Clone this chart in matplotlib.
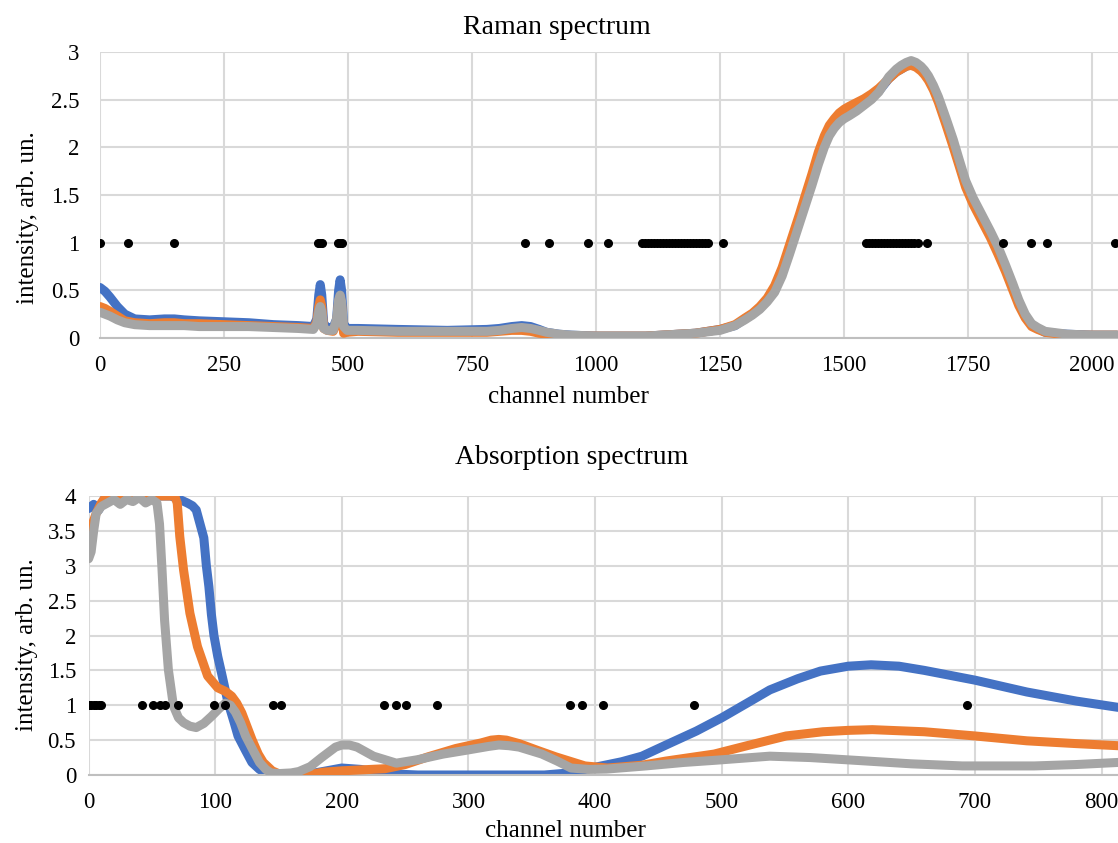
import matplotlib
matplotlib.use("Agg")
import matplotlib.pyplot as plt

plt.rcParams["font.family"] = ["Liberation Serif", "DejaVu Serif"]

BLUE = "#4472C4"
ORANGE = "#ED7D31"
GRAY = "#A5A5A5"
GRID = "#D9D9D9"

# Raman spectrum (top)
raman_x = [0, 10, 20, 35, 50, 70, 100, 130, 150, 170, 200, 250, 300, 350, 400, 430,
           437, 441, 444, 447, 451, 458, 470, 477, 481, 484, 487, 491, 498, 520, 600,
           700, 780, 805, 830, 850, 868, 885, 900, 925, 950, 1000, 1100,
           1200, 1250, 1280, 1300, 1315, 1330, 1345, 1360, 1375, 1390,
           1400, 1410, 1420, 1435, 1448, 1460, 1470, 1480, 1490, 1500,
           1510, 1525, 1540, 1555, 1570, 1590, 1605, 1615, 1625, 1635,
           1645, 1655, 1662, 1670, 1680, 1690, 1705, 1720, 1732, 1745,
           1760, 1780, 1795, 1810, 1825, 1840, 1852, 1865, 1878, 1890,
           1905, 1920, 1950, 2000, 2050]
raman_blue = [0.53, 0.49, 0.43, 0.33, 0.25, 0.20, 0.19, 0.20, 0.20, 0.19, 0.18, 0.17, 0.16, 0.14, 0.13, 0.12,
              0.20, 0.45, 0.56, 0.45, 0.15, 0.11, 0.11, 0.20, 0.50, 0.61, 0.50, 0.15, 0.10, 0.10, 0.09,
              0.08, 0.09, 0.10, 0.12, 0.13, 0.12, 0.09, 0.06, 0.04, 0.03, 0.02, 0.02,
              0.05, 0.09, 0.13, 0.20, 0.25, 0.31, 0.40, 0.50, 0.68, 0.92,
              1.08, 1.24, 1.40, 1.65, 1.87, 2.05, 2.16, 2.24, 2.30, 2.34,
              2.37, 2.42, 2.47, 2.52, 2.59, 2.72, 2.79, 2.82, 2.85, 2.87,
              2.86, 2.82, 2.78, 2.72, 2.62, 2.50, 2.27, 2.04, 1.83, 1.62,
              1.44, 1.24, 1.09, 0.92, 0.74, 0.54, 0.37, 0.23, 0.14, 0.10,
              0.06, 0.05, 0.04, 0.03, 0.03]
raman_orange = [0.33, 0.31, 0.28, 0.23, 0.18, 0.16, 0.15, 0.16, 0.16, 0.15, 0.15, 0.14, 0.13, 0.12, 0.11, 0.10,
                0.17, 0.33, 0.40, 0.33, 0.10, 0.08, 0.07, 0.15, 0.38, 0.44, 0.35, 0.05, 0.06, 0.07, 0.06,
                0.06, 0.06, 0.07, 0.08, 0.08, 0.07, 0.05, 0.04, 0.03, 0.02, 0.02, 0.02,
                0.05, 0.09, 0.14, 0.21, 0.26, 0.33, 0.42, 0.55, 0.74, 0.98,
                1.14, 1.30, 1.47, 1.72, 1.95, 2.12, 2.23, 2.30, 2.36, 2.40,
                2.43, 2.47, 2.51, 2.56, 2.62, 2.72, 2.79, 2.82, 2.85, 2.86,
                2.84, 2.80, 2.76, 2.70, 2.60, 2.47, 2.24, 2.00, 1.80, 1.58,
                1.40, 1.20, 1.05, 0.88, 0.70, 0.50, 0.34, 0.21, 0.12, 0.09,
                0.06, 0.05, 0.03, 0.03, 0.03]
raman_gray = [0.27, 0.25, 0.23, 0.19, 0.16, 0.14, 0.13, 0.13, 0.13, 0.13, 0.12, 0.12, 0.12, 0.11, 0.10, 0.09,
              0.15, 0.28, 0.33, 0.28, 0.10, 0.08, 0.08, 0.20, 0.40, 0.45, 0.38, 0.12, 0.08, 0.08, 0.07,
              0.07, 0.07, 0.08, 0.10, 0.11, 0.10, 0.08, 0.06, 0.04, 0.03, 0.02, 0.02,
              0.05, 0.08, 0.13, 0.19, 0.24, 0.30, 0.38, 0.48, 0.65, 0.88,
              1.04, 1.20, 1.36, 1.60, 1.82, 2.00, 2.12, 2.20, 2.26, 2.30,
              2.33, 2.38, 2.44, 2.50, 2.58, 2.74, 2.82, 2.86, 2.89, 2.91,
              2.89, 2.85, 2.81, 2.75, 2.65, 2.53, 2.31, 2.08, 1.87, 1.65,
              1.47, 1.27, 1.12, 0.96, 0.77, 0.57, 0.40, 0.25, 0.15, 0.11,
              0.07, 0.06, 0.04, 0.03, 0.03]
raman_dots = [0, 57, 149, 440, 444, 448, 480, 484, 488, 857, 905, 984, 1024,
              1093, 1099, 1105, 1111, 1117, 1123, 1129, 1135, 1141, 1147, 1153, 1159,
              1165, 1171, 1177, 1183, 1189, 1195, 1201, 1207, 1213, 1219, 1225, 1255,
              1545, 1551, 1557, 1563, 1569, 1575, 1581, 1587, 1593, 1599, 1605, 1611,
              1617, 1623, 1629, 1635, 1641, 1648, 1668, 1821, 1877, 1908, 2045]

# Absorption spectrum (bottom)
abs_blue_x = [0, 4, 8, 12, 18, 30, 50, 65, 72, 78, 82, 85, 88, 91, 93, 95, 97, 99, 102, 105,
              110, 115, 118, 124, 129, 135, 140, 150, 170, 185, 200, 215, 234, 260, 300, 360,
              380, 397, 421, 437, 456, 480, 500, 520, 538, 560, 578, 600, 618, 640, 660, 700,
              741, 780, 813]
abs_blue = [3.82, 3.88, 3.80, 3.95, 4.0, 4.0, 4.0, 4.0, 3.95, 3.90, 3.86, 3.80, 3.60, 3.40, 3.00, 2.70, 2.30, 2.00, 1.70, 1.46,
            1.05, 0.75, 0.56, 0.35, 0.18, 0.08, 0.03, 0.0, 0.0, 0.05, 0.10, 0.08, 0.02, 0.0, 0.0, 0.0,
            0.03, 0.10, 0.19, 0.27, 0.43, 0.63, 0.82, 1.03, 1.22, 1.38, 1.49, 1.56, 1.58, 1.56, 1.50, 1.36,
            1.19, 1.06, 0.97]
abs_orange_x = [0, 3, 6, 10, 14, 30, 60, 68, 70, 72, 75, 80, 86, 94, 102, 108, 113, 117, 121, 125,
                129, 134, 138, 145, 150, 172, 185, 200, 234, 250, 268, 290, 310, 318, 324, 330, 340, 355,
                369, 392, 410, 437, 456, 494, 520, 551, 580, 600, 619, 660, 700, 741, 780, 813]
abs_orange = [3.50, 3.60, 3.75, 3.90, 4.0, 4.0, 4.0, 4.0, 3.90, 3.42, 2.94, 2.32, 1.84, 1.42, 1.25, 1.20, 1.13, 1.03, 0.89, 0.70,
              0.51, 0.30, 0.18, 0.06, 0.02, 0.0, 0.04, 0.06, 0.09, 0.15, 0.26, 0.38, 0.46, 0.50, 0.51, 0.50, 0.45, 0.35,
              0.26, 0.13, 0.10, 0.14, 0.20, 0.30, 0.42, 0.56, 0.62, 0.64, 0.65, 0.62, 0.56, 0.49, 0.45, 0.42]
abs_gray_x = [0, 2, 4, 6, 10, 15, 20, 25, 30, 35, 40, 45, 50, 54, 56, 58, 60, 63, 67, 71,
              75, 80, 85, 91, 97, 103, 108, 112, 116, 120, 124, 130, 135, 140, 144, 150, 160, 166,
              175, 184, 195, 200, 206, 212, 225, 243, 260, 280, 300, 316, 324, 332, 340, 358, 370, 381, 395,
              409, 440, 470, 494, 538, 570, 606, 650, 690, 747, 780, 813]
abs_gray = [3.10, 3.20, 3.50, 3.75, 3.85, 3.90, 3.95, 3.88, 3.95, 3.92, 3.98, 3.90, 3.95, 3.90, 3.60, 2.94, 2.22, 1.51, 0.99, 0.82,
            0.75, 0.70, 0.68, 0.74, 0.84, 0.95, 1.03, 1.00, 0.90, 0.75, 0.56, 0.35, 0.18, 0.08, 0.03, 0.02, 0.03, 0.05,
            0.12, 0.25, 0.40, 0.43, 0.43, 0.40, 0.27, 0.17, 0.22, 0.30, 0.36, 0.41, 0.43, 0.42, 0.40, 0.30, 0.20, 0.10, 0.08,
            0.085, 0.13, 0.18, 0.21, 0.27, 0.25, 0.21, 0.16, 0.13, 0.13, 0.15, 0.18]
abs_dots = [0, 2, 4, 6, 8, 10, 42, 51, 56, 60, 71, 99, 108, 146, 152, 233, 243, 251, 275,
            380, 390, 406, 478, 694]

W, H = 1118, 843
fig = plt.figure(figsize=(W / 100, H / 100), dpi=100)


def style(ax, xmax, ymax, xstep, ystep, ypad):
    ax.set_xlim(0, xmax)
    ax.set_ylim(0, ymax)
    ax.set_xticks([i * xstep for i in range(int(xmax // xstep) + 1)])
    yt = [i * ystep for i in range(int(round(ymax / ystep)) + 1)]
    ax.set_yticks(yt)
    ax.set_yticklabels(["%g" % v for v in yt])
    ax.grid(True, color=GRID, linewidth=1.5, zorder=0)
    ax.set_axisbelow(True)
    for s in ["top", "right", "left"]:
        ax.spines[s].set_visible(False)
    ax.spines["bottom"].set_color("#BFBFBF")
    ax.spines["bottom"].set_linewidth(1.5)
    ax.tick_params(axis="both", length=0, labelsize=16.5)
    ax.tick_params(axis="y", pad=ypad)
    ax.tick_params(axis="x", pad=12)


lw = 6.5
ms = 5.5
kw = dict(lw=lw, solid_joinstyle="round", solid_capstyle="round")

ax1 = fig.add_axes([100 / W, 1 - 338 / H, 1 - 100 / W, 286 / H])
ax1.plot(raman_x, raman_blue, color=BLUE, zorder=2, **kw)
ax1.plot(raman_x, raman_orange, color=ORANGE, zorder=3, **kw)
ax1.plot(raman_x, raman_gray, color=GRAY, zorder=4, **kw)
ax1.plot(raman_dots, [1] * len(raman_dots), "o", color="black", ms=ms, zorder=5)
style(ax1, 2052, 3, 250, 0.5, 15)

ax2 = fig.add_axes([88.6 / W, 1 - 775 / H, 1 - 88.6 / W, 279 / H])
ax2.plot(abs_blue_x, abs_blue, color=BLUE, zorder=2, **kw)
ax2.plot(abs_orange_x, abs_orange, color=ORANGE, zorder=3, **kw)
ax2.plot(abs_gray_x, abs_gray, color=GRAY, zorder=4, **kw)
ax2.plot(abs_dots, [1] * len(abs_dots), "o", color="black", ms=ms, zorder=5)
style(ax2, 813, 4, 100, 0.5, 9)

fig.text(557 / W, 1 - 27 / H, "Raman spectrum", ha="center", va="center", fontsize=20)
fig.text(568 / W, 1 - 397 / H, "channel number", ha="center", va="center", fontsize=18)
fig.text(28 / W, 1 - 218 / H, "intensity, arb. un.", ha="center", va="center",
         rotation=90, fontsize=18)
fig.text(572 / W, 1 - 458 / H, "Absorption spectrum", ha="center", va="center", fontsize=20)
fig.text(565 / W, 1 - 831 / H, "channel number", ha="center", va="center", fontsize=18)
fig.text(27 / W, 1 - 645 / H, "intensity, arb. un.", ha="center", va="center",
         rotation=90, fontsize=18)

fig.savefig("out.png", dpi=100)
